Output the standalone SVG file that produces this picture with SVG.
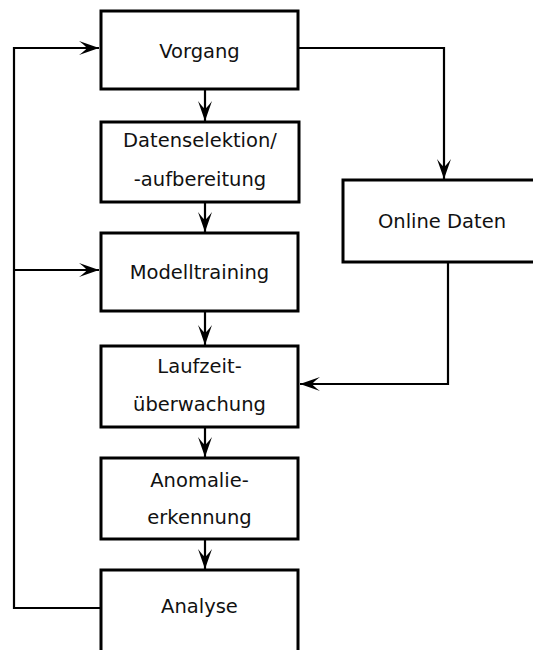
<svg xmlns="http://www.w3.org/2000/svg" width="533" height="650" viewBox="0 0 533 650">
  <style>
    .box { fill: #ffffff; stroke: #000000; stroke-width: 3; }
    .lbl { font-family: "DejaVu Sans", Verdana, sans-serif; font-size: 19.5px; fill: #111111; text-anchor: middle; }
    .wire { fill: none; stroke: #000000; stroke-width: 2.2; }
  </style>
  <defs>
    <marker id="head" markerUnits="userSpaceOnUse" markerWidth="24" markerHeight="18" viewBox="-21 -9 22 18" refX="0" refY="0" orient="auto">
      <path d="M0,0 L-20,-7 Q-14,-2.5 -12,0 Q-14,2.5 -20,7 Z" fill="#000000"/>
    </marker>
  </defs>

  <rect width="533" height="650" fill="#ffffff"/>

  <g id="connectors">
    <!-- main chain -->
    <line class="wire" x1="205" y1="89" x2="205" y2="121" marker-end="url(#head)"/>
    <line class="wire" x1="205" y1="202" x2="205" y2="232" marker-end="url(#head)"/>
    <line class="wire" x1="205" y1="311" x2="205" y2="345" marker-end="url(#head)"/>
    <line class="wire" x1="205" y1="427" x2="205" y2="457" marker-end="url(#head)"/>
    <line class="wire" x1="205" y1="539" x2="205" y2="569" marker-end="url(#head)"/>
    <!-- feedback loop on the left -->
    <polyline class="wire" points="100,608 14,608 14,48 99,48" marker-end="url(#head)"/>
    <line class="wire" x1="14" y1="270" x2="99" y2="270" marker-end="url(#head)"/>
    <!-- online data branch -->
    <polyline class="wire" points="298,48 444,48 444,179" marker-end="url(#head)"/>
    <polyline class="wire" points="448,262 448,384 300,384" marker-end="url(#head)"/>
  </g>

  <g id="vorgang">
    <rect class="box" x="101" y="11" width="197" height="78"/>
    <text class="lbl" x="199.5" y="58">Vorgang</text>
  </g>
  <g id="datenselektion">
    <rect class="box" x="101" y="122" width="198" height="80"/>
    <text class="lbl" x="200" y="147">Datenselektion/</text>
    <text class="lbl" x="200" y="186">-aufbereitung</text>
  </g>
  <g id="modelltraining">
    <rect class="box" x="101" y="233" width="197" height="78"/>
    <text class="lbl" x="199.5" y="279">Modelltraining</text>
  </g>
  <g id="laufzeit">
    <rect class="box" x="101" y="346" width="197" height="81"/>
    <text class="lbl" x="199.5" y="373">Laufzeit-</text>
    <text class="lbl" x="199.5" y="411">überwachung</text>
  </g>
  <g id="anomalie">
    <rect class="box" x="101" y="458" width="197" height="81"/>
    <text class="lbl" x="199.5" y="487">Anomalie-</text>
    <text class="lbl" x="199.5" y="524">erkennung</text>
  </g>
  <g id="analyse">
    <rect class="box" x="101" y="570" width="197" height="82"/>
    <text class="lbl" x="199.5" y="613">Analyse</text>
  </g>
  <g id="online-daten">
    <rect class="box" x="343" y="180" width="192" height="82"/>
    <text class="lbl" x="442" y="228">Online Daten</text>
  </g>
</svg>
